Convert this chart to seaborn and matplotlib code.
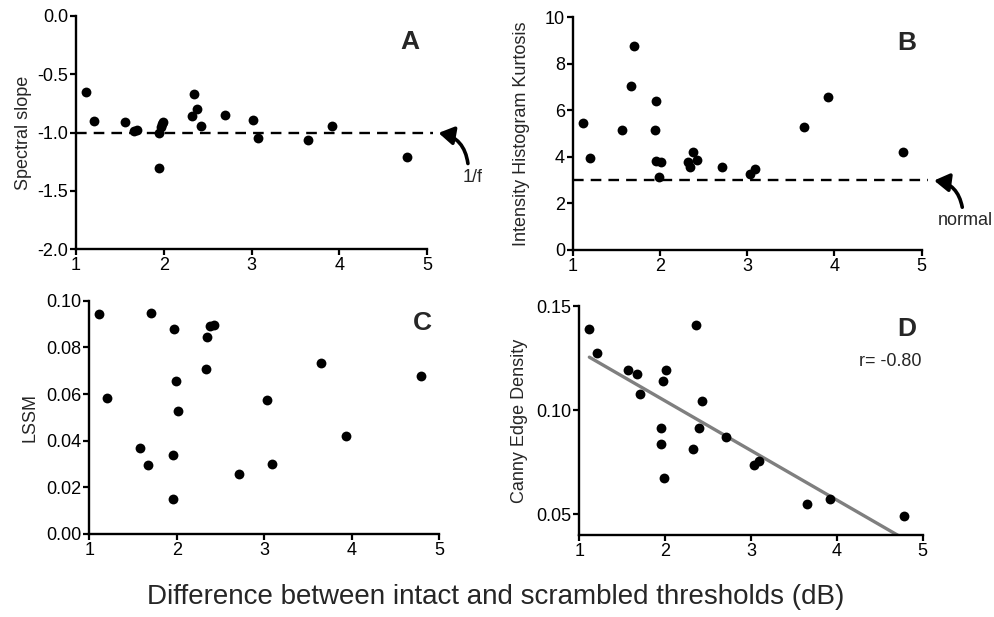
import numpy as np
import pandas as pd
import matplotlib
matplotlib.use("Agg")
import matplotlib.pyplot as plt
import seaborn as sns
from matplotlib.patches import FancyArrowPatch

# ---------------- data ----------------
x_thresh = [1.11, 1.20, 1.56, 1.665, 1.70, 1.947, 1.95, 1.966, 1.996, 1.98,
            2.323, 2.346, 2.38, 2.42, 2.70, 3.02, 3.076, 3.646, 3.92, 4.776]
spectral_slope = [-0.649, -0.897, -0.911, -0.986, -0.977, -1.006, -1.306, -0.949, -0.914, -0.93,
                  -0.857, -0.671, -0.794, -0.94, -0.849, -0.891, -1.051, -1.063, -0.94, -1.211]

x_kurt = [1.115, 1.195, 1.565, 1.665, 1.70, 1.95, 1.947, 1.96, 2.008, 1.99,
          2.32, 2.38, 2.345, 2.42, 2.71, 3.03, 3.085, 3.647, 3.926, 4.79]
kurtosis = [5.44, 3.94, 5.17, 7.03, 8.75, 6.40, 5.14, 3.81, 3.77, 3.14,
            3.77, 4.20, 3.57, 3.87, 3.58, 3.25, 3.48, 5.30, 6.58, 4.23]

x_lssm = [1.114, 1.206, 1.575, 1.674, 1.705, 1.952, 1.96, 1.968, 1.99, 2.01,
          2.33, 2.35, 2.383, 2.43, 2.71, 3.03, 3.088, 3.65, 3.93, 4.787]
lssm = [0.0941, 0.0581, 0.0370, 0.0294, 0.0947, 0.0337, 0.0149, 0.0879, 0.0656, 0.0529,
        0.0707, 0.0844, 0.0893, 0.0897, 0.0259, 0.0573, 0.0299, 0.0734, 0.0419, 0.0679]

x_canny = [1.117, 1.21, 1.571, 1.672, 1.707, 1.955, 1.955, 1.97, 2.01, 1.986,
           2.328, 2.355, 2.39, 2.425, 2.713, 3.03, 3.09, 3.656, 3.924, 4.786]
canny = [0.1389, 0.1272, 0.1192, 0.1173, 0.1077, 0.0913, 0.0836, 0.1139, 0.1192, 0.0676,
         0.0811, 0.1408, 0.0913, 0.1043, 0.0873, 0.0735, 0.0755, 0.0550, 0.0572, 0.0492]

x_ticks = [1, 2, 3, 4, 5]
a_ticks = [0.0, -0.5, -1.0, -1.5, -2.0]
b_ticks = [0, 2, 4, 6, 8, 10]
c_ticks = [0.00, 0.02, 0.04, 0.06, 0.08, 0.10]
d_ticks = [0.05, 0.10, 0.15]

# ---------------- style ----------------
sns.set_theme(style="ticks")
plt.rcParams['font.family'] = ['Liberation Sans', 'DejaVu Sans']
plt.rcParams['axes.unicode_minus'] = False

W, H = 994, 617
fig = plt.figure(figsize=(W / 100, H / 100), dpi=100)

def px_axes(left, top, right, bottom):
    return fig.add_axes([left / W, 1 - bottom / H, (right - left) / W, (bottom - top) / H])

axA = px_axes(76, 16, 427, 249)
axB = px_axes(572.7, 17.3, 921.7, 250)
axC = px_axes(89.3, 300.7, 439.3, 534)
axD = px_axes(579.3, 306, 922.7, 535)

FS = 13

def style(ax, yticks, ylim, fmt):
    ax.set_xlim(1, 5)
    ax.set_ylim(*ylim)
    ax.set_xticks(x_ticks)
    ax.set_xticklabels([str(t) for t in x_ticks])
    ax.set_yticks(yticks)
    ax.set_yticklabels([fmt.format(t) for t in yticks])
    for s in ['top', 'right']:
        ax.spines[s].set_visible(False)
    for s in ['left', 'bottom']:
        ax.spines[s].set_linewidth(1.7)
        ax.spines[s].set_color('black')
    ax.tick_params(axis='both', direction='out', length=4, width=1.6, colors='black',
                   labelsize=FS, pad=1.5)
    ax.patch.set_alpha(0)
    ax.set_xlabel('')

ms = 50
dfA = pd.DataFrame({'x': x_thresh, 'y': spectral_slope})
sns.scatterplot(data=dfA, x='x', y='y', ax=axA, color='black', s=ms, edgecolor='black',
                linewidth=0, clip_on=False, zorder=3)
style(axA, a_ticks, (-2.0, 0.0), '{:.1f}')
axA.set_ylabel('Spectral slope', fontsize=FS, labelpad=4)
axA.plot([1, 5.07], [-1, -1], ls=(0, (4.5, 3)), color='black', lw=1.7, clip_on=False, zorder=2)
axA.add_patch(FancyArrowPatch((5.47, -1.29), (5.1, -1.0), connectionstyle='arc3,rad=0.4',
                              arrowstyle='-|>,head_length=9,head_width=5.5', lw=2.6,
                              color='black', clip_on=False, mutation_scale=1))
axA.text(5.52, -1.39, '1/f', fontsize=FS, ha='center', va='center', clip_on=False)
axA.text(4.8, -0.22, 'A', fontsize=19, fontweight='bold', ha='center', va='center')

dfB = pd.DataFrame({'x': x_kurt, 'y': kurtosis})
sns.scatterplot(data=dfB, x='x', y='y', ax=axB, color='black', s=ms, edgecolor='black',
                linewidth=0, clip_on=False, zorder=3)
style(axB, b_ticks, (0, 10), '{:d}')
axB.set_ylabel('Intensity Histogram Kurtosis', fontsize=FS, labelpad=11)
axB.plot([1, 5.07], [3, 3], ls=(0, (4.5, 3)), color='black', lw=1.7, clip_on=False, zorder=2)
axB.add_patch(FancyArrowPatch((5.47, 1.72), (5.11, 3.0), connectionstyle='arc3,rad=0.4',
                              arrowstyle='-|>,head_length=9,head_width=5.5', lw=2.6,
                              color='black', clip_on=False, mutation_scale=1))
axB.text(5.5, 1.25, 'normal', fontsize=FS, ha='center', va='center', clip_on=False)
axB.text(4.83, 8.9, 'B', fontsize=19, fontweight='bold', ha='center', va='center')

dfC = pd.DataFrame({'x': x_lssm, 'y': lssm})
sns.scatterplot(data=dfC, x='x', y='y', ax=axC, color='black', s=ms, edgecolor='black',
                linewidth=0, clip_on=False, zorder=3)
style(axC, c_ticks, (0, 0.10), '{:.2f}')
axC.set_ylabel('LSSM', fontsize=FS, labelpad=6)
axC.text(4.81, 0.0904, 'C', fontsize=19, fontweight='bold', ha='center', va='center')

dfD = pd.DataFrame({'x': x_canny, 'y': canny})
sns.regplot(data=dfD, x='x', y='y', ax=axD, ci=None, truncate=True,
            scatter_kws=dict(color='black', s=ms, linewidths=0, alpha=1, zorder=3, clip_on=False),
            line_kws=dict(color='#7f7f7f', lw=2.4, zorder=2))
style(axD, d_ticks, (0.04, 0.15), '{:.2f}')
axD.set_ylabel('Canny Edge Density', fontsize=FS, labelpad=6)
axD.text(4.82, 0.1388, 'D', fontsize=19, fontweight='bold', ha='center', va='center')
axD.text(4.62, 0.1232, 'r= -0.80', fontsize=FS, ha='center', va='center')

fig.text(496 / W, 1 - 597 / H, 'Difference between intact and scrambled thresholds (dB)',
         fontsize=20, ha='center', va='center')

fig.savefig('out.png', dpi=100)
